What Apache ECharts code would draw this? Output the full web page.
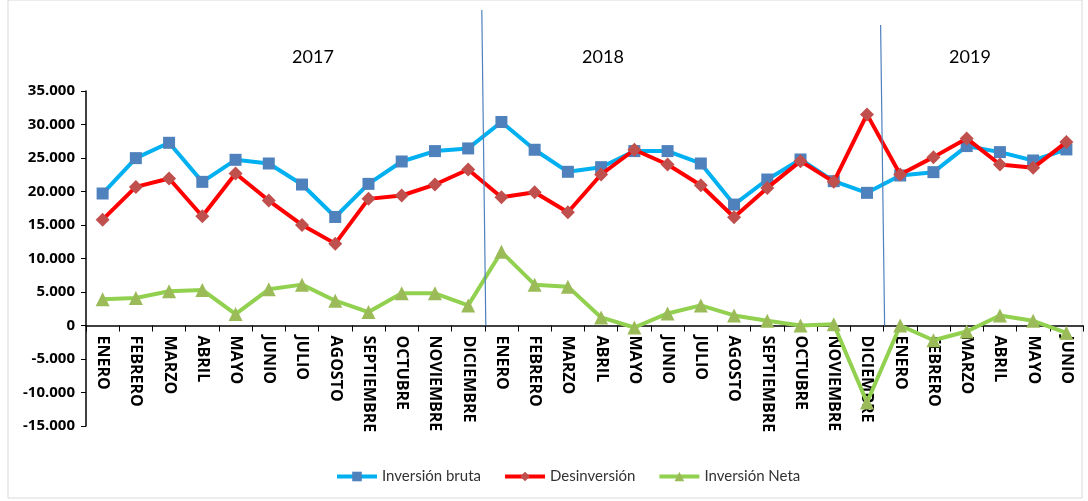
<!DOCTYPE html>
<html><head><meta charset="utf-8">
<script src="https://cdn.jsdelivr.net/npm/echarts@6/dist/echarts.min.js"></script>
<style>html,body{margin:0;padding:0;background:#fff}#c{width:1088px;height:501px}</style>
</head><body><div id="c"></div>
<script>
const months = ["ENERO","FEBRERO","MARZO","ABRIL","MAYO","JUNIO","JULIO","AGOSTO","SEPTIEMBRE","OCTUBRE","NOVIEMBRE","DICIEMBRE",
"ENERO","FEBRERO","MARZO","ABRIL","MAYO","JUNIO","JULIO","AGOSTO","SEPTIEMBRE","OCTUBRE","NOVIEMBRE","DICIEMBRE",
"ENERO","FEBRERO","MARZO","ABRIL","MAYO","JUNIO"];
const categories = months.map((m,i)=>i+"|"+m);
const years = ["2017","2018","2019"];
const inversionBruta = [19700,24980,27270,21440,24730,24180,21040,16200,21140,24480,26030,26430,
30370,26230,22940,23630,26030,26030,24180,18050,21790,24780,21540,19800,
22390,22890,26780,25880,24630,26280];
const desinversion = [15800,20690,21940,16300,22690,18650,15010,12220,18900,19400,21040,23290,
19150,19900,16900,22540,26230,24030,20940,16150,20540,24530,21440,31510,
22540,25130,27920,24030,23530,27370];
const inversionNeta = [3900,4100,5100,5300,1700,5400,6100,3700,2000,4800,4800,3000,
11000,6100,5800,1200,-300,1800,3000,1500,700,0,200,-11500,
0,-2200,-900,1500,700,-1100];
const yTicks = {min:-15000,max:35000,interval:5000};

const chart = echarts.init(document.getElementById('c'));
const fmt = v => v===0 ? "0" : (v<0?"-":"") + Math.abs(v).toLocaleString('de-DE');
const font = "Lato, 'Open Sans', sans-serif";
const boldFont = "'Open Sans', Lato, sans-serif";
chart.setOption({
  animation:false,
  grid:{left:86,right:5,top:91,bottom:75,containLabel:false,outerBoundsMode:'none'},
  legend:{bottom:12,left:330,itemWidth:40,itemHeight:12,itemGap:22,
    lineStyle:{width:4},
    textStyle:{fontFamily:font,fontSize:15,color:'#333'},
    data:['Inversión bruta','Desinversión','Inversión Neta']},
  xAxis:[{type:'category',data:categories,boundaryGap:true,position:'bottom',
    axisLine:{onZero:false,lineStyle:{color:'#000',width:1.5}},
    axisTick:{show:true,length:6,lineStyle:{color:'#000'},inside:false},
    axisLabel:{rotate:-90,interval:0,fontFamily:boldFont,fontWeight:'bold',fontSize:16,color:'#000',margin:10,
      width:104,overflow:'truncate',ellipsis:'',
      formatter:v=>v.split('|')[1]}},
    {type:'value',min:0,max:30,show:false}],
  yAxis:{type:'value',min:yTicks.min,max:yTicks.max,interval:yTicks.interval,
    axisLine:{show:true,lineStyle:{color:'#000',width:1.5}},
    axisTick:{show:true,length:5,lineStyle:{color:'#000'}},
    splitLine:{show:false},
    axisLabel:{formatter:fmt,fontFamily:boldFont,fontWeight:'bold',fontSize:15,color:'#000',margin:11}},
  series:[
    {name:'Inversión bruta',type:'line',data:inversionBruta,symbol:'rect',symbolSize:12,
     lineStyle:{color:'#00B0F0',width:4},itemStyle:{color:'#4F81BD'},z:3},
    {name:'Desinversión',type:'line',data:desinversion,symbol:'diamond',symbolSize:14,
     lineStyle:{color:'#FF0000',width:4},itemStyle:{color:'#C0504D'},z:4},
    {name:'Inversión Neta',type:'line',data:inversionNeta,symbol:'triangle',symbolSize:14,
     lineStyle:{color:'#92D050',width:4},itemStyle:{color:'#9BBB59'},z:2}
  ]
});

const yZero = chart.convertToPixel({yAxisIndex:0},0);
const yBottom = chart.convertToPixel({yAxisIndex:0},yTicks.min);
chart.setOption({xAxis:[{offset:-(yBottom-yZero)},{}]});

const g = [];
g.push({type:'rect',shape:{x:8,y:0,width:1074,height:498},style:{fill:'none',stroke:'#d9d9d9',lineWidth:1},silent:true});
[12,24].forEach((b,i)=>{
  const x = chart.convertToPixel({xAxisIndex:1},b);
  g.push({type:'line',shape:{x1:x-3,y1:i===0?10:25,x2:x+1,y2:yZero},style:{stroke:'#4F81BD',lineWidth:1.2},z:10});
});
const yearX = [313,603,970];
years.forEach((y,i)=>{
  g.push({type:'text',x:yearX[i],y:57,style:{text:y,font:"18px "+font,fill:'#000',align:'center',verticalAlign:'middle'},z:10});
});
chart.setOption({graphic:g});
</script></body></html>
